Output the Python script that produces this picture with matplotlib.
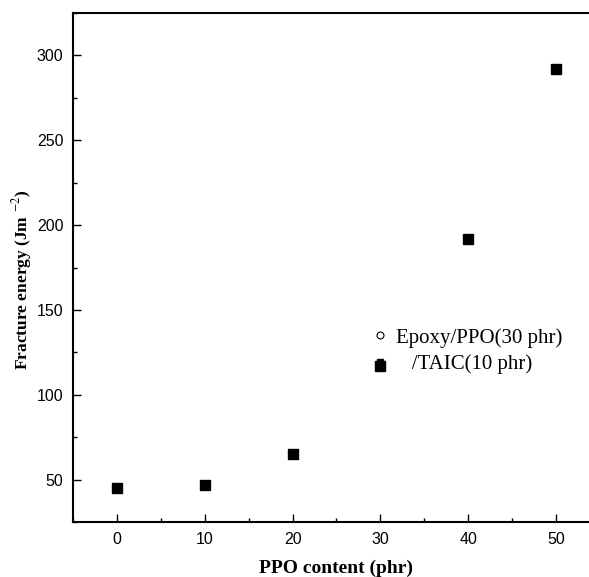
import matplotlib
matplotlib.use("Agg")
import matplotlib.pyplot as plt
from matplotlib.lines import Line2D
from matplotlib.ticker import MultipleLocator

ppo_content = [0, 10, 20, 30, 40, 50]
fracture_energy = [45, 47, 65, 117, 192, 292]
legend_labels = ["Epoxy/PPO(30 phr)", "   /TAIC(10 phr)"]

plt.rcParams['mathtext.fontset'] = 'stix'

W, H = 589, 577
fig = plt.figure(figsize=(W / 100, H / 100), dpi=100)
left, right, top, bottom = 73, 589, 13, 522
ax = fig.add_axes([left / W, 1 - bottom / H, (right - left) / W, (bottom - top) / H])

ax.plot(ppo_content, fracture_energy, linestyle='none', marker='s',
        markersize=6.5, color='black')

ax.set_xlim(-5, 53.75)
ax.set_ylim(25, 325)
ax.xaxis.set_major_locator(MultipleLocator(10))
ax.xaxis.set_minor_locator(MultipleLocator(5))
ax.yaxis.set_major_locator(MultipleLocator(50))
ax.yaxis.set_minor_locator(MultipleLocator(25))
ax.tick_params(which='major', direction='in', length=5.5, width=1.0,
               labelsize=11.5, pad=7, top=False, right=False)
ax.tick_params(which='minor', direction='in', length=3, width=1.0,
               top=False, right=False)
for lab in ax.get_xticklabels() + ax.get_yticklabels():
    lab.set_fontfamily('Liberation Sans')

for s in ['left', 'bottom', 'top']:
    ax.spines[s].set_linewidth(1.5)
ax.spines['right'].set_visible(False)

fig.text(336 / W, 1 - 568 / H, 'PPO content (phr)', ha='center', va='center',
         fontsize=14, fontweight='bold', family='Liberation Serif')
fig.text(22 / W, 1 - 280 / H, 'Fracture energy (Jm $^{-2}$)', ha='center', va='center',
         rotation=90, fontsize=12.5, fontweight='bold', family='Liberation Serif')

handles = [
    Line2D([], [], linestyle='none', marker='o', markersize=5, markerfacecolor='white',
           markeredgecolor='black', markeredgewidth=0.8),
    Line2D([], [], linestyle='none', marker='s', markersize=5, color='black'),
]
ax.legend(handles, legend_labels, loc='center left',
          bbox_to_anchor=(371.5 / W, 1 - 351 / H), bbox_transform=fig.transFigure,
          frameon=False, handlelength=0.8, handletextpad=0.4, labelspacing=0.33,
          borderpad=0, borderaxespad=0,
          prop={'family': 'Liberation Serif', 'size': 15})

fig.savefig('out.png', dpi=100)
